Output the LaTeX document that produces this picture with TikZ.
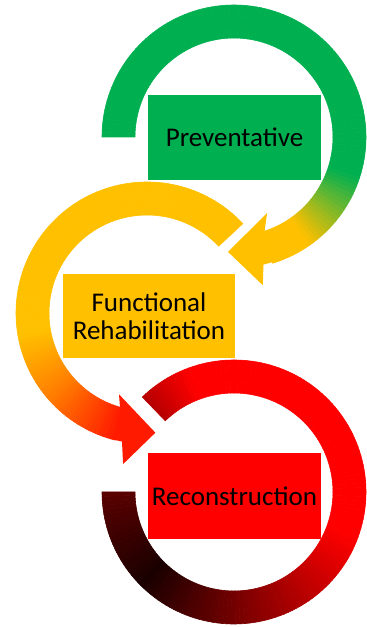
\documentclass[tikz,border=0pt]{standalone}
\usepackage{fontspec}
\setmainfont{Carlito}
\usepackage{xcolor}
\usepackage{tikz}

\definecolor{prevgreen}{HTML}{00B050}
\definecolor{funcyellow}{HTML}{FFC000}
\definecolor{funcorange}{HTML}{FF8000}
\definecolor{funcred}{HTML}{FF1A00}
\definecolor{reconred}{HTML}{FF0000}
\definecolor{recondark}{HTML}{B40000}
\definecolor{reconblack}{HTML}{1A0000}
\definecolor{reconend}{HTML}{5A0000}

\tikzset{
	phase/.style={minimum width=173pt, minimum height=85pt, inner sep=0pt,
		align=center, text=black, font=\fontsize{27}{28}\selectfont}
}

% one stretch of a ring: centre, inner r, outer r, from, to, colour at start, colour at end
\newcommand{\ringpart}[7]{%
	\pgfmathtruncatemacro\nseg{max(1,round(abs(#5-(#4))/2))}%
	\foreach \k in {1,...,\nseg}{%
		\pgfmathsetmacro\segA{#4+(\k-1)/\nseg*(#5-(#4))}%
		\pgfmathsetmacro\segB{#4+\k/\nseg*(#5-(#4))}%
		\pgfmathtruncatemacro\mixp{round(100*(\k-0.5)/\nseg)}%
		\colorlet{segcol}{#7!\mixp!#6}%
		\fill[segcol, draw=segcol, line width=0.6pt, shift={(#1)}]
			(\segA:#2) arc[start angle=\segA, end angle=\segB, radius=#2]
			-- (\segB:#3) arc[start angle=\segB, end angle=\segA, radius=#3] -- cycle;
	}%
}

\begin{document}
\begin{tikzpicture}[x=1pt,y=1pt]
	\useasboundingbox (0,0) rectangle (367,627);

	\coordinate (gc) at (234,490);
	\coordinate (yc) at (147,314);
	\coordinate (rc) at (234,135);

	% green ring
	\ringpart{gc}{99}{132}{180}{-18}{prevgreen}{prevgreen}
	\ringpart{gc}{99}{132}{-18}{-55}{prevgreen}{funcyellow}
	\ringpart{gc}{99}{132}{-55}{-73}{funcyellow}{funcyellow}
	\fill[funcyellow, shift={(gc)}]
		(-79:151) -- (-93:115) -- (-66.5:83) -- (-72:99) -- (-72:131) -- (-77:131) -- cycle;

	% yellow ring
	\ringpart{yc}{98}{131}{43}{190}{funcyellow}{funcyellow}
	\ringpart{yc}{98}{131}{190}{220}{funcyellow}{funcorange}
	\ringpart{yc}{98}{131}{220}{256}{funcorange}{funcred}
	\fill[funcred, shift={(yc)}]
		(251:86) -- (274:120) -- (261:153) -- (259:131) -- (255:131) -- (255:98) -- (254:98) -- cycle;

	% red ring
	\ringpart{rc}{99}{132}{134}{110}{recondark}{reconred}
	\ringpart{rc}{99}{132}{110}{-20}{reconred}{reconred}
	\ringpart{rc}{99}{132}{-20}{-135}{reconred}{reconblack}
	\ringpart{rc}{99}{132}{-135}{-180}{reconblack}{reconend}

	\node[phase, fill=prevgreen] (prev) at (234.5,489.5) {Preventative};
	\node[phase, fill=funcyellow, minimum width=172pt, minimum height=84pt] (func) at (149,311) {Functional\\Rehabilitation};
	\node[phase, fill=reconred, minimum height=86pt] (recon) at (234.5,131) {Reconstruction};
\end{tikzpicture}
\end{document}
